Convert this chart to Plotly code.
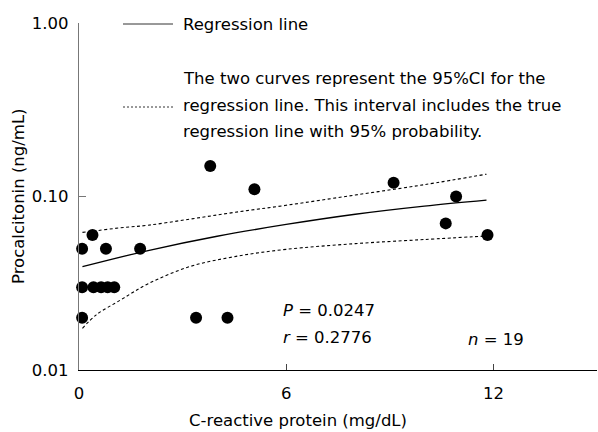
import plotly.graph_objects as go

# ---- data ----
crp = [0.39, 0.09, 0.78, 1.77, 0.09, 0.42, 0.64, 0.83, 1.02,
       0.09, 3.39, 4.30, 3.80, 5.08, 9.11, 10.92, 10.62, 11.83]
pct = [0.06, 0.05, 0.05, 0.05, 0.03, 0.03, 0.03, 0.03, 0.03,
       0.02, 0.02, 0.02, 0.15, 0.11, 0.12, 0.10, 0.07, 0.06]

reg_x = [0.1, 2.0, 4.0, 6.0, 8.0, 10.0, 11.8]
reg_y = [0.0394, 0.0488, 0.0590, 0.0690, 0.0790, 0.0880, 0.0953]

ci_x = [0.1, 0.5, 1.2, 2.0, 3.2, 4.5, 6.0, 8.0, 10.0, 11.8]
ci_upper = [0.0621, 0.0635, 0.0660, 0.0683, 0.0740, 0.0810, 0.0890, 0.1020, 0.1170, 0.1345]
ci_lower = [0.0174, 0.0208, 0.0253, 0.0314, 0.0394, 0.0450, 0.0496, 0.0535, 0.0565, 0.0592]

x_ticks = [0, 6, 12]
y_ticks = [0.01, 0.1, 1.0]
y_ticktext = ["0.01", "0.10", "1.00"]

FONT = "DejaVu Sans"
FS = 16.5

# layout geometry (pixels)
W, H = 598, 432
L, R, T, B = 79, 1, 23, 62
PW, PH = W - L - R, H - T - B


def px(xp):
    return (xp - L) / PW


def py(yp):
    return (H - B - yp) / PH


fig = go.Figure()
fig.add_trace(go.Scatter(x=ci_x, y=ci_upper, mode="lines", line=dict(color="black", width=1.1, dash="3px,2.5px", shape="spline"), hoverinfo="skip"))
fig.add_trace(go.Scatter(x=ci_x, y=ci_lower, mode="lines", line=dict(color="black", width=1.1, dash="3px,2.5px", shape="spline"), hoverinfo="skip"))
fig.add_trace(go.Scatter(x=reg_x, y=reg_y, mode="lines", line=dict(color="black", width=1.3, shape="spline"), hoverinfo="skip"))
fig.add_trace(go.Scatter(x=crp, y=pct, mode="markers", marker=dict(color="black", size=12), cliponaxis=False))

fig.update_layout(
    width=W, height=H, margin=dict(l=L, r=R, t=T, b=B),
    plot_bgcolor="white", paper_bgcolor="white", showlegend=False,
    font=dict(family=FONT, size=FS, color="black"),
    xaxis=dict(range=[0, 15], tickvals=x_ticks, ticks="inside", ticklen=6, tickcolor="#444",
               showline=True, linecolor="black", linewidth=1.2, showgrid=False, zeroline=False,
               tickfont=dict(size=FS), ticklabelstandoff=8),
    yaxis=dict(type="log", range=[-2, 0], tickvals=y_ticks, ticktext=y_ticktext, ticks="inside",
               ticklen=7, tickcolor="#777", showline=True, linecolor="#777", linewidth=1.2,
               showgrid=False, zeroline=False, tickfont=dict(size=FS), ticklabelstandoff=6),
)

ann = [
    dict(text="Regression line", x=px(181), y=py(24), xanchor="left"),
    dict(text="The two curves represent the 95%CI for the", x=px(181), y=py(78), xanchor="left"),
    dict(text="regression line. This interval includes the true", x=px(181), y=py(105), xanchor="left"),
    dict(text="regression line with 95% probability.", x=px(181), y=py(131), xanchor="left"),
    dict(text="<i>P</i> = 0.0247", x=px(281), y=py(310), xanchor="left"),
    dict(text="<i>r</i> = 0.2776", x=px(281), y=py(337), xanchor="left"),
    dict(text="<i>n</i> = 19", x=px(466), y=py(339), xanchor="left"),
    dict(text="C-reactive protein (mg/dL)", x=px(298), y=py(420), xanchor="center"),
    dict(text="Procalcitonin (ng/mL)", x=px(18), y=py(196), xanchor="center", textangle=-90),
]
for a in ann:
    fig.add_annotation(xref="paper", yref="paper", yanchor="middle", showarrow=False,
                       font=dict(family=FONT, size=FS, color="black"), **a)

fig.add_shape(type="line", xref="paper", yref="paper", x0=px(123), x1=px(173), y0=py(24), y1=py(24),
              line=dict(color="#333", width=1))
fig.add_shape(type="line", xref="paper", yref="paper", x0=px(123), x1=px(173), y0=py(107), y1=py(107),
              line=dict(color="#333", width=1, dash="2px,2px"))

fig.write_html("out.html", config={"displayModeBar": False},
               post_script="document.body.style.margin='0';")
